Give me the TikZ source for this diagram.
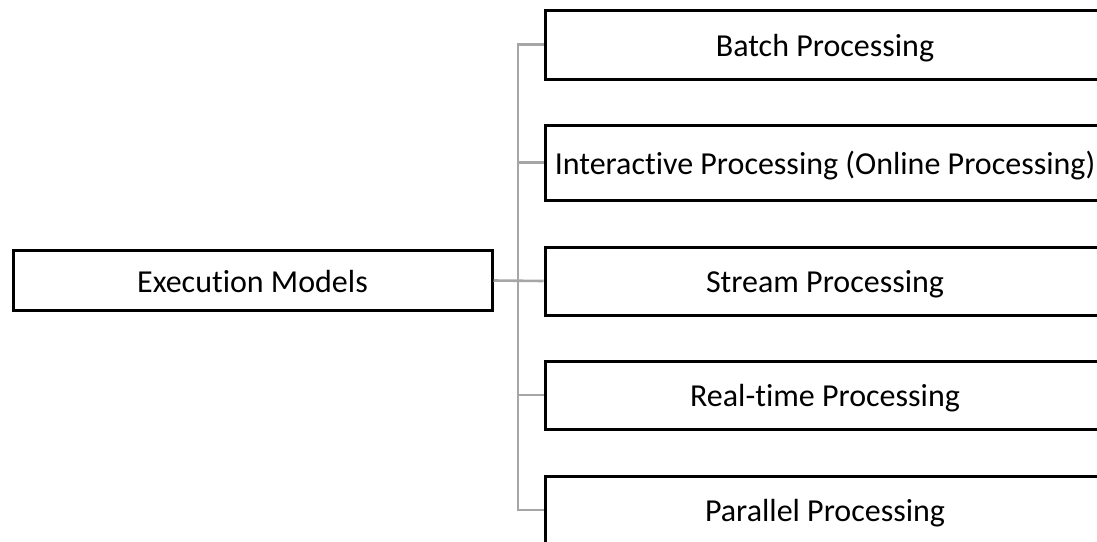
\documentclass[tikz,border=0pt]{standalone}
\usepackage{fontspec}
\setmainfont[Ligatures={NoCommon,NoContextual}]{Carlito}
\definecolor{linkgray}{HTML}{A6A6A6}
\tikzset{
  modelbox/.style={draw=black, line width=3pt, rectangle, inner sep=0pt,
    text height=26pt, text depth=3pt,
    font=\fontsize{32}{38}\selectfont, text=black},
  conn/.style={draw=linkgray, line width=2.6pt}
}
\begin{document}
\begin{tikzpicture}[x=1pt, y=-1pt]
\useasboundingbox (0,0) rectangle (1097,541);
\clip (0,0) rectangle (1097,541);
% root node
\node[modelbox, minimum width=479pt, minimum height=60pt] (exec) at (252.5,280.5) {Execution Models};
% child nodes (they run past the right edge)
\node[modelbox, minimum width=560pt, minimum height=69pt] (batch) at (825,44.5) {Batch Processing};
\node[modelbox, minimum width=560pt, minimum height=75pt] (inter) at (825,162.5) {Interactive Processing (Online Processing)};
\node[modelbox, minimum width=560pt, minimum height=68pt] (stream) at (825,281) {Stream Processing};
\node[modelbox, minimum width=560pt, minimum height=68pt] (real) at (825,395) {Real-time Processing};
\node[modelbox, minimum width=560pt, minimum height=68pt] (para) at (825,510) {Parallel Processing};
% trunk of the tree
\coordinate (trunk) at (518,281);
\draw[conn] (batch.west) -- (batch.west -| trunk) -- (para.west -| trunk) -- (para.west);
\draw[conn] (exec.east) -- (stream.west);
\draw[conn] (inter.west -| trunk) -- (inter.west);
\draw[conn] (real.west -| trunk) -- (real.west);
\end{tikzpicture}
\end{document}
